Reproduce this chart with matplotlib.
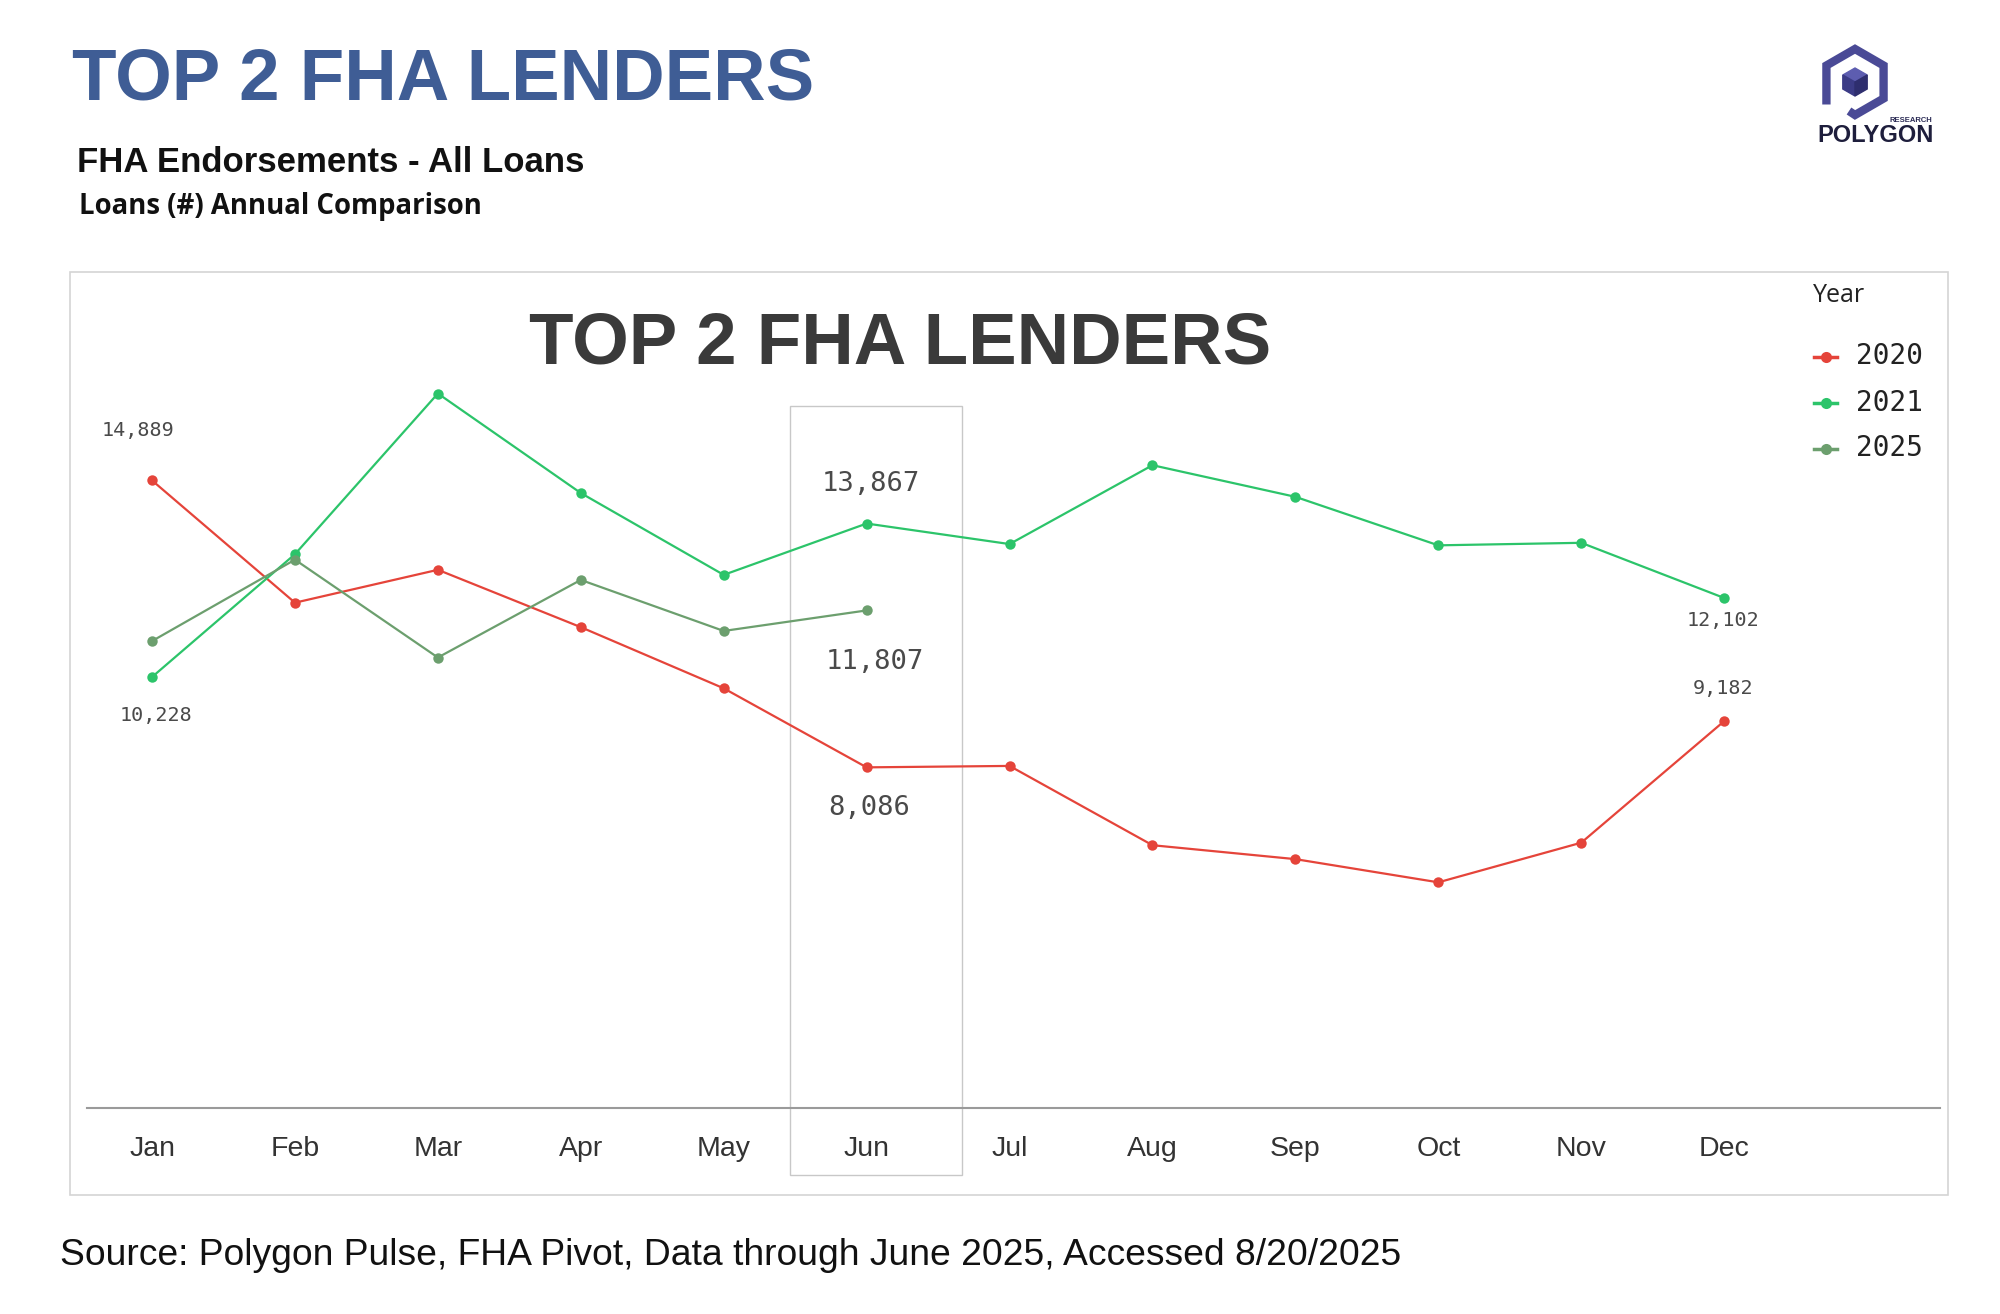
import matplotlib
matplotlib.use("Agg")
import matplotlib.pyplot as plt
from matplotlib.lines import Line2D
from matplotlib.patches import Rectangle, Polygon
import numpy as np

# ---------------- data ----------------
months = ["Jan", "Feb", "Mar", "Apr", "May", "Jun", "Jul", "Aug", "Sep", "Oct", "Nov", "Dec"]
years = ["2020", "2021", "2025"]
loans_2020 = [14889, 11990, 12770, 11410, 9960, 8086, 8120, 6240, 5910, 5360, 6300, 9182]
loans_2021 = [10228, 13140, 16950, 14590, 12650, 13867, 13380, 15250, 14500, 13350, 13410, 12102]
loans_2025 = [11080, 13010, 10690, 12530, 11320, 11807]
colors = {"2020": "#e5443a", "2021": "#2cc46a", "2025": "#6c9f6e"}

title = "TOP 2 FHA LENDERS"
subtitle = "FHA Endorsements - All Loans"
subsubtitle = "Loans (#) Annual Comparison"
source = "Source: Polygon Pulse, FHA Pivot, Data through June 2025, Accessed 8/20/2025"

W, H = 2000, 1314
fig = plt.figure(figsize=(W / 100, H / 100), dpi=100)
fig.patch.set_facecolor("white")

def fx(x):
    return x / W

def fy(y):
    return 1 - y / H

# ---------------- headings ----------------
fig.text(fx(72), fy(99), title, fontsize=52.4, fontweight="bold", color="#3f5d95",
         family="Liberation Sans", ha="left", va="baseline")
fig.text(fx(77), fy(172), subtitle, fontsize=25, fontweight="bold", color="#111111",
         family="Liberation Sans", ha="left", va="baseline")
fig.text(fx(79), fy(214), subsubtitle, fontsize=19.8, fontweight="bold", color="#111111",
         family="Open Sans", ha="left", va="baseline")
fig.text(fx(60), fy(1265), source, fontsize=26.8, color="#111111",
         family="Liberation Sans", ha="left", va="baseline")

# ---------------- chart frame ----------------
fig.add_artist(Rectangle((fx(70), fy(1195)), fx(1948) - fx(70), fy(272) - fy(1195),
                         transform=fig.transFigure, fill=False, edgecolor="#d4d4d4", lw=1.2, zorder=0))
# Jun highlight box
fig.add_artist(Rectangle((fx(790), fy(1175)), fx(962) - fx(790), fy(406) - fy(1175),
                         transform=fig.transFigure, fill=False, edgecolor="#c8c8c8", lw=1.0, zorder=0))

# ---------------- axes ----------------
ax_left, ax_right = 87, 1940
ax_bottom, ax_top = 1108.4, 290
ax = fig.add_axes([fx(ax_left), fy(ax_bottom), fx(ax_right) - fx(ax_left), fy(ax_top) - fy(ax_bottom)])
ax.set_facecolor("none")
ax.set_xlim(-0.455, 12.51)
ax.set_ylim(0, 19404)

x_all = np.arange(len(months))
series = {"2020": loans_2020, "2021": loans_2021, "2025": loans_2025}
for yr in years:
    vals = series[yr]
    ax.plot(x_all[:len(vals)], vals, color=colors[yr], lw=1.6, marker="o", markersize=7.5,
            markeredgewidth=0, zorder=3)

for s in ["top", "left", "right"]:
    ax.spines[s].set_visible(False)
ax.spines["bottom"].set_color("#9a9a9a")
ax.spines["bottom"].set_linewidth(1.5)
ax.set_yticks([])
ax.set_xticks(x_all)
ax.set_xticklabels(months, fontsize=20.5, color="#333333", family="Liberation Sans")
ax.tick_params(axis="x", length=0, pad=20)

# chart inner title
ax.text(fx(900), fy(364), title, transform=fig.transFigure, fontsize=52.4, fontweight="bold",
        color="#3a3a3a", family="Liberation Sans", ha="center", va="baseline")

# data labels
def label(xi, val, dx, dy, size):
    ax.annotate(f"{val:,}", xy=(xi, val), xytext=(dx, -dy), textcoords="offset pixels",
                ha="center", va="center", fontsize=size, color="#4a4a4a", family="DejaVu Sans Mono")

label(0, loans_2020[0], -14, -50, 14.5)
label(0, loans_2021[0], 4, 38, 14.5)
label(5, loans_2021[5], 4, -40, 19.5)
label(5, loans_2025[5], 8, 52, 19.5)
label(5, loans_2020[5], 3, 41, 19.5)
label(11, loans_2021[11], -1, 23, 14.5)
label(11, loans_2020[11], -1, -33, 14.5)

# ---------------- legend ----------------
fig.text(fx(1813), fy(296), "Year", fontsize=18, color="#222222", family="Open Sans",
         ha="left", va="center")
for i, yr in enumerate(years):
    yc = 356.5 + i * 46
    fig.add_artist(Line2D([fx(1814), fx(1837)], [fy(yc), fy(yc)], transform=fig.transFigure,
                          color=colors[yr], lw=2.5, marker="o", markersize=0))
    fig.add_artist(Line2D([fx(1825.5)], [fy(yc)], transform=fig.transFigure, color=colors[yr],
                          marker="o", markersize=8, markeredgewidth=0, lw=0))
    fig.text(fx(1856), fy(yc), yr, fontsize=20, color="#222222", family="DejaVu Sans Mono",
             ha="left", va="center")

# ---------------- logo ----------------
lax = fig.add_axes([fx(1800), fy(160), fx(1950) - fx(1800), fy(30) - fy(160)])
lax.set_xlim(1800, 1950)
lax.set_ylim(160, 30)
lax.axis("off")
cx, cy, r = 1855, 82, 33
ang = np.deg2rad([210, 150, 90, 30, -30, -90])
pts = [(cx + r * np.cos(a), cy - r * np.sin(a)) for a in ang]
# P-shaped hexagon outline: stem goes down on left
path = [(pts[0][0], pts[0][1] + 6)] + pts[1:] + [(cx - 6, cy + r - 4)]
lax.plot([p[0] for p in path], [p[1] for p in path], color="#4a4a96", lw=6,
         solid_joinstyle="miter", solid_capstyle="butt")
# cube
cr = 14
c_top = [(cx, cy - cr), (cx + cr * 0.87, cy - cr * 0.5), (cx, cy), (cx - cr * 0.87, cy - cr * 0.5)]
c_left = [(cx - cr * 0.87, cy - cr * 0.5), (cx, cy), (cx, cy + cr), (cx - cr * 0.87, cy + cr * 0.5)]
c_right = [(cx, cy), (cx + cr * 0.87, cy - cr * 0.5), (cx + cr * 0.87, cy + cr * 0.5), (cx, cy + cr)]
lax.add_patch(Polygon(c_top, closed=True, color="#5d5db0"))
lax.add_patch(Polygon(c_left, closed=True, color="#3b3b86"))
lax.add_patch(Polygon(c_right, closed=True, color="#2e2e6e"))
lax.text(1932, 120, "RESEARCH", fontsize=5.5, fontweight="bold", color="#2b2b55",
         family="Liberation Sans", ha="right", va="center")
lax.text(1876, 136, "POLYGON", fontsize=17, fontweight="bold", color="#1e1e3c",
         family="Liberation Sans", ha="center", va="center")

fig.savefig("out.png", dpi=100, facecolor="white")
